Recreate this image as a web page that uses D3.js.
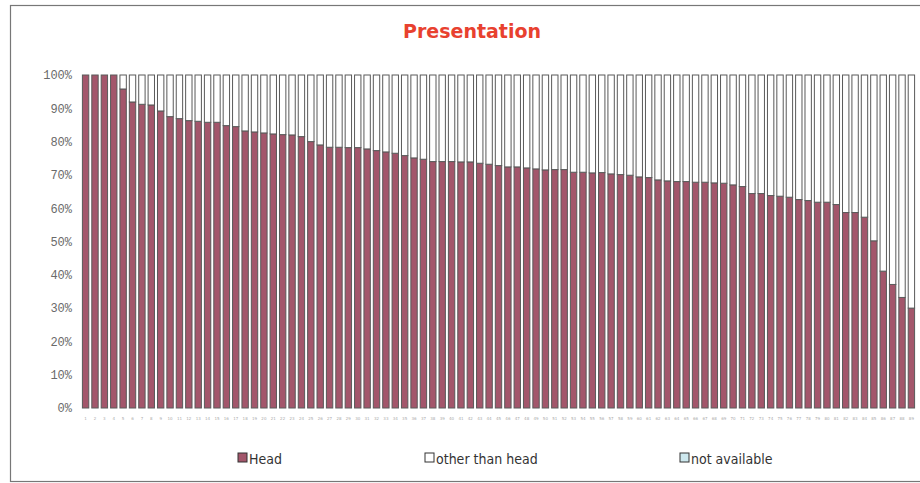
<!DOCTYPE html>
<html>
<head>
<meta charset="utf-8">
<script src="https://cdn.jsdelivr.net/npm/d3@7"></script>
<style>
  body { margin: 0; background: #fff; }
</style>
</head>
<body>
<script>
// share of "Head" per case, cases sorted descending
var head = [100, 100, 100, 100, 95.8, 91.9, 91.2, 91.0, 89.2, 87.5,
            86.9, 86.3, 86.1, 85.8, 85.8, 84.8, 84.5, 83.2, 82.9, 82.6,
            82.3, 82.1, 82.0, 81.5, 80.0, 79.0, 78.3, 78.3, 78.2, 78.2,
            77.8, 77.3, 76.9, 76.5, 75.8, 75.1, 74.7, 74.0, 74.0, 74.0,
            73.9, 73.9, 73.5, 73.2, 72.8, 72.4, 72.4, 72.1, 71.8, 71.5,
            71.6, 71.6, 70.8, 70.8, 70.6, 70.7, 70.3, 70.1, 69.9, 69.4,
            69.2, 68.5, 68.2, 68.0, 68.0, 67.8, 67.8, 67.6, 67.5, 67.0,
            66.5, 64.4, 64.4, 63.8, 63.6, 63.3, 62.6, 62.3, 61.8, 61.8,
            61.1, 58.7, 58.7, 57.3, 50.2, 41.1, 37.1, 33.2, 30.0];
var notAvailable = head.map(function () { return 0; });
var cases = d3.range(1, head.length + 1);
var yTicks = [0, 10, 20, 30, 40, 50, 60, 70, 80, 90, 100];
var seriesNames = ["Head", "other than head", "not available"];
var seriesColors = ["#a3566b", "#ffffff", "#cde8ee"];

var width = 920, height = 483;

var svg = d3.select("body").append("svg")
    .attr("width", width)
    .attr("height", height);

// outer frame
svg.append("rect")
    .attr("x", 10.5).attr("y", 5.5)
    .attr("width", 920).attr("height", 476)
    .attr("fill", "none")
    .attr("stroke", "#777")
    .attr("stroke-width", 1.2);

svg.append("text")
    .attr("x", 472).attr("y", 38)
    .attr("text-anchor", "middle")
    .attr("font-family", "DejaVu Sans, Verdana, sans-serif")
    .attr("font-weight", "bold")
    .attr("font-size", 19)
    .attr("fill", "#e8412f")
    .text("Presentation");

var x = d3.scaleBand()
    .domain(cases)
    .range([81, 916])
    .paddingInner(0.32)
    .paddingOuter(0.15);

var y = d3.scaleLinear()
    .domain([0, 100])
    .range([408, 75]);

var rows = cases.map(function (c, i) {
    return { c: c, head: head[i], other: 100 - head[i] - notAvailable[i], na: notAvailable[i] };
});
var stack = d3.stack().keys(["head", "other", "na"])(rows);

svg.append("g")
    .selectAll("g")
    .data(stack)
    .enter()
    .append("g")
    .attr("fill", function (d, i) { return seriesColors[i]; })
    .selectAll("rect")
    .data(function (d) { return d; })
    .enter()
    .append("rect")
    .attr("x", function (d) { return x(d.data.c); })
    .attr("y", function (d) { return y(d[1]); })
    .attr("width", x.bandwidth())
    .attr("height", function (d) { return y(d[0]) - y(d[1]); })
    .attr("stroke", "#5a5a5a")
    .attr("stroke-width", 1)
    .attr("display", function (d) { return d[1] - d[0] > 0 ? null : "none"; });

var yAxis = d3.axisLeft(y)
    .tickValues(yTicks)
    .tickSize(0)
    .tickPadding(9)
    .tickFormat(function (d) { return d + "%"; });

var gy = svg.append("g")
    .attr("transform", "translate(81,0)")
    .call(yAxis);
gy.select(".domain").remove();
gy.selectAll("text")
    .attr("font-family", "Liberation Mono, monospace")
    .attr("font-size", 12)
    .attr("fill", "#6a6a6a");

var xAxis = d3.axisBottom(x).tickSize(0).tickPadding(9);
var gx = svg.append("g")
    .attr("transform", "translate(0,408)")
    .call(xAxis);
gx.select(".domain").remove();
gx.selectAll("text")
    .attr("font-family", "DejaVu Sans, sans-serif")
    .attr("font-size", 4)
    .attr("fill", "#aaa");

// legend
var legendX = [238, 425, 680];
var legend = svg.append("g")
    .selectAll("g")
    .data(seriesNames)
    .enter()
    .append("g")
    .attr("transform", function (d, i) { return "translate(" + legendX[i] + ",453)"; });

legend.append("rect")
    .attr("width", 9).attr("height", 9)
    .attr("fill", function (d, i) { return seriesColors[i]; })
    .attr("stroke", "#333")
    .attr("stroke-width", 1);

legend.append("text")
    .attr("x", 11).attr("y", 10.5)
    .attr("font-family", "DejaVu Sans Condensed, DejaVu Sans, sans-serif")
    .attr("font-size", 14)
    .attr("fill", "#333")
    .text(function (d) { return d; });
</script>
</body>
</html>
